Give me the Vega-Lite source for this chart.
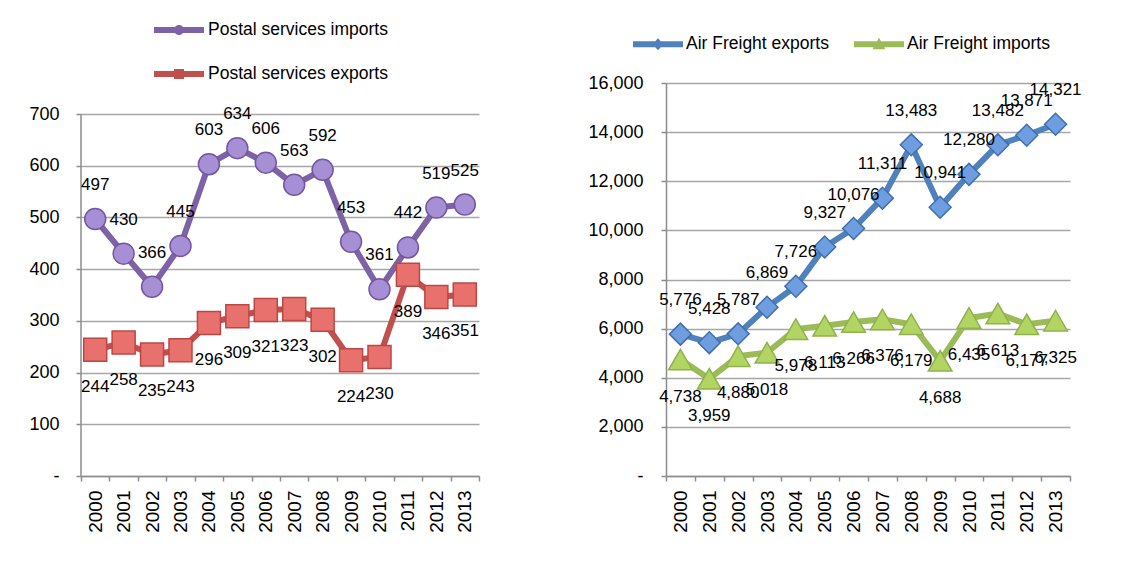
{
  "$schema": "https://vega.github.io/schema/vega-lite/v6.json",
  "background": "white",
  "padding": {"left": 28, "top": 5, "right": 0, "bottom": 0},
  "bounds": "flush",
  "spacing": 187,
  "config": {
    "view": {"stroke": null},
    "font": "Liberation Sans",
    "axis": {
      "labelFont": "Liberation Sans", "labelFontSize": 18, "labelColor": "#000000",
      "domainColor": "#8c8c8c", "domainWidth": 1.5, "tickColor": "#8c8c8c", "tickWidth": 1.5,
      "gridColor": "#a6a6a6", "gridWidth": 1.5, "title": null
    },
    "legend": {"labelFont": "Liberation Sans", "labelFontSize": 17.5, "labelColor": "#000000", "title": null, "labelLimit": 400}
  },
  "resolve": {"scale": {"color": "independent", "x": "independent", "y": "independent"}, "legend": {"color": "independent"}},
  "datasets": {
    "postal": [
      {"year": "2000", "series": "Postal services imports", "value": 497},
      {"year": "2001", "series": "Postal services imports", "value": 430},
      {"year": "2002", "series": "Postal services imports", "value": 366},
      {"year": "2003", "series": "Postal services imports", "value": 445},
      {"year": "2004", "series": "Postal services imports", "value": 603},
      {"year": "2005", "series": "Postal services imports", "value": 634},
      {"year": "2006", "series": "Postal services imports", "value": 606},
      {"year": "2007", "series": "Postal services imports", "value": 563},
      {"year": "2008", "series": "Postal services imports", "value": 592},
      {"year": "2009", "series": "Postal services imports", "value": 453},
      {"year": "2010", "series": "Postal services imports", "value": 361},
      {"year": "2011", "series": "Postal services imports", "value": 442},
      {"year": "2012", "series": "Postal services imports", "value": 519},
      {"year": "2013", "series": "Postal services imports", "value": 525},
      {"year": "2000", "series": "Postal services exports", "value": 244},
      {"year": "2001", "series": "Postal services exports", "value": 258},
      {"year": "2002", "series": "Postal services exports", "value": 235},
      {"year": "2003", "series": "Postal services exports", "value": 243},
      {"year": "2004", "series": "Postal services exports", "value": 296},
      {"year": "2005", "series": "Postal services exports", "value": 309},
      {"year": "2006", "series": "Postal services exports", "value": 321},
      {"year": "2007", "series": "Postal services exports", "value": 323},
      {"year": "2008", "series": "Postal services exports", "value": 302},
      {"year": "2009", "series": "Postal services exports", "value": 224},
      {"year": "2010", "series": "Postal services exports", "value": 230},
      {"year": "2011", "series": "Postal services exports", "value": 389},
      {"year": "2012", "series": "Postal services exports", "value": 346},
      {"year": "2013", "series": "Postal services exports", "value": 351}
    ],
    "air": [
      {"year": "2000", "series": "Air Freight exports", "value": 5776},
      {"year": "2001", "series": "Air Freight exports", "value": 5428},
      {"year": "2002", "series": "Air Freight exports", "value": 5787},
      {"year": "2003", "series": "Air Freight exports", "value": 6869},
      {"year": "2004", "series": "Air Freight exports", "value": 7726},
      {"year": "2005", "series": "Air Freight exports", "value": 9327},
      {"year": "2006", "series": "Air Freight exports", "value": 10076},
      {"year": "2007", "series": "Air Freight exports", "value": 11311},
      {"year": "2008", "series": "Air Freight exports", "value": 13483},
      {"year": "2009", "series": "Air Freight exports", "value": 10941},
      {"year": "2010", "series": "Air Freight exports", "value": 12280},
      {"year": "2011", "series": "Air Freight exports", "value": 13482},
      {"year": "2012", "series": "Air Freight exports", "value": 13871},
      {"year": "2013", "series": "Air Freight exports", "value": 14321},
      {"year": "2000", "series": "Air Freight imports", "value": 4738},
      {"year": "2001", "series": "Air Freight imports", "value": 3959},
      {"year": "2002", "series": "Air Freight imports", "value": 4880},
      {"year": "2003", "series": "Air Freight imports", "value": 5018},
      {"year": "2004", "series": "Air Freight imports", "value": 5978},
      {"year": "2005", "series": "Air Freight imports", "value": 6113},
      {"year": "2006", "series": "Air Freight imports", "value": 6266},
      {"year": "2007", "series": "Air Freight imports", "value": 6376},
      {"year": "2008", "series": "Air Freight imports", "value": 6179},
      {"year": "2009", "series": "Air Freight imports", "value": 4688},
      {"year": "2010", "series": "Air Freight imports", "value": 6435},
      {"year": "2011", "series": "Air Freight imports", "value": 6613},
      {"year": "2012", "series": "Air Freight imports", "value": 6177},
      {"year": "2013", "series": "Air Freight imports", "value": 6325}
    ]
  },
  "hconcat": [
    {
      "width": 398,
      "height": 393,
      "data": {"name": "postal"},
      "encoding": {
        "x": {"field": "year", "type": "ordinal", "bandPosition": 0.5,
          "scale": {"type": "band", "paddingInner": 0, "paddingOuter": 0},
          "axis": {"labelAngle": -90, "tickBand": "extent", "tickSize": 5, "labelPadding": 9, "labelFontSize": 19, "grid": false}},
        "y": {"field": "value", "type": "quantitative",
          "scale": {"domain": [0, 760], "nice": false},
          "axis": {"values": [0, 100, 200, 300, 400, 500, 600, 700], "tickSize": 5, "labelPadding": 17, "grid": true, "domain": false,
            "labelExpr": "datum.value == 0 ? '-\u00a0\u00a0\u00a0\u00a0' : datum.label"}}
      },
      "layer": [
        {
          "transform": [{"filter": "datum.year === '2000' && datum.series === 'Postal services imports'"}],
          "mark": {"type": "rule", "color": "#8c8c8c", "strokeWidth": 1.5},
          "encoding": {
            "x": {"field": "year", "type": "ordinal", "bandPosition": 0},
            "y": {"datum": 0},
            "y2": {"datum": 700}
          }
        },
        {
          "mark": {"type": "line", "strokeWidth": 6},
          "encoding": {
            "color": {"field": "series", "type": "nominal",
              "scale": {"domain": ["Postal services imports", "Postal services exports"], "range": ["#7e62a6", "#c0504d"]},
              "legend": {"orient": "none", "legendX": 73, "legendY": -78, "direction": "vertical", "padding": 0,
                "symbolSize": 2500, "labelOffset": 4, "rowPadding": 10,
                "encode": {"symbols": {"update": {
                  "shape": {"signal": "datum.value === 'Postal services imports' ? 'M-1,-0.12H1V0.12H-1Z M0.2,0A0.2,0.2 0 1,1 -0.2,0A0.2,0.2 0 1,1 0.2,0Z' : 'M-1,-0.12H1V0.12H-1Z M-0.2,-0.2H0.2V0.2H-0.2Z'"},
                  "fill": {"signal": "datum.value === 'Postal services imports' ? '#7e62a6' : '#c0504d'"},
                  "fillOpacity": {"value": 1},
                  "strokeWidth": {"value": 0},
                  "opacity": {"value": 1}
                }}}}
            }
          }
        },
        {
          "transform": [{"filter": "datum.series === 'Postal services imports'"}],
          "mark": {"type": "point", "shape": "circle", "size": 441, "filled": true, "fill": "#a68fd4", "stroke": "#7457a0", "strokeWidth": 1.5, "opacity": 1}
        },
        {
          "transform": [{"filter": "datum.series === 'Postal services exports'"}],
          "mark": {"type": "point", "shape": "square", "size": 530, "filled": true, "fill": "#e8716e", "stroke": "#bb4744", "strokeWidth": 1.5, "opacity": 1}
        },
        {
          "transform": [{"filter": "datum.series === 'Postal services imports'"}],
          "mark": {"type": "text", "font": "Liberation Sans", "fontSize": 17, "color": "#000000", "dy": -34},
          "encoding": {"text": {"field": "value", "type": "quantitative", "format": ","}}
        },
        {
          "transform": [{"filter": "datum.series === 'Postal services exports'"}],
          "mark": {"type": "text", "font": "Liberation Sans", "fontSize": 17, "color": "#000000", "dy": 37},
          "encoding": {"text": {"field": "value", "type": "quantitative", "format": ","}}
        }
      ]
    },
    {
      "width": 404,
      "height": 393,
      "data": {"name": "air"},
      "encoding": {
        "x": {"field": "year", "type": "ordinal", "bandPosition": 0.5,
          "scale": {"type": "band", "paddingInner": 0, "paddingOuter": 0},
          "axis": {"labelAngle": -90, "tickBand": "extent", "tickSize": 5, "labelPadding": 9, "labelFontSize": 19, "grid": false}},
        "y": {"field": "value", "type": "quantitative",
          "scale": {"domain": [0, 16000]},
          "axis": {"values": [0, 2000, 4000, 6000, 8000, 10000, 12000, 14000, 16000], "tickSize": 5, "labelPadding": 18, "grid": true,
            "labelExpr": "datum.value == 0 ? '-\u00a0\u00a0\u00a0' : format(datum.value, ',')"}}
      },
      "layer": [
        {
          "mark": {"type": "line", "strokeWidth": 6},
          "encoding": {
            "color": {"field": "series", "type": "nominal",
              "scale": {"domain": ["Air Freight exports", "Air Freight imports"], "range": ["#4f81bd", "#9bbb59"]},
              "legend": {"orient": "none", "legendX": -33, "legendY": -64, "direction": "horizontal", "padding": 0,
                "symbolSize": 2500, "labelOffset": 3, "columnPadding": 25,
                "encode": {"symbols": {"update": {
                  "shape": {"signal": "datum.value === 'Air Freight exports' ? 'M-1,-0.12H1V0.12H-1Z M-0.22,0L0,-0.24L0.22,0L0,0.24Z' : 'M-1,-0.12H1V0.12H-1Z M0,-0.26L0.26,0.2L-0.26,0.2Z'"},
                  "fill": {"signal": "datum.value === 'Air Freight exports' ? '#4f81bd' : '#9bbb59'"},
                  "fillOpacity": {"value": 1},
                  "strokeWidth": {"value": 0},
                  "opacity": {"value": 1}
                }}}}
            }
          }
        },
        {
          "transform": [{"filter": "datum.series === 'Air Freight exports'"}],
          "mark": {"type": "point", "shape": "diamond", "size": 480, "filled": true, "fill": "#6e9ee0", "stroke": "#3f6fae", "strokeWidth": 1.5, "opacity": 1}
        },
        {
          "transform": [{"filter": "datum.series === 'Air Freight imports'"}],
          "mark": {"type": "point", "shape": "triangle-up", "size": 560, "filled": true, "fill": "#b2d463", "stroke": "#8fb24c", "strokeWidth": 1.5, "opacity": 1}
        },
        {
          "transform": [{"filter": "datum.series === 'Air Freight exports'"}],
          "mark": {"type": "text", "font": "Liberation Sans", "fontSize": 17, "color": "#000000", "dy": -34},
          "encoding": {"text": {"field": "value", "type": "quantitative", "format": ","}}
        },
        {
          "transform": [{"filter": "datum.series === 'Air Freight imports'"}],
          "mark": {"type": "text", "font": "Liberation Sans", "fontSize": 17, "color": "#000000", "dy": 37},
          "encoding": {"text": {"field": "value", "type": "quantitative", "format": ","}}
        }
      ]
    }
  ]
}
